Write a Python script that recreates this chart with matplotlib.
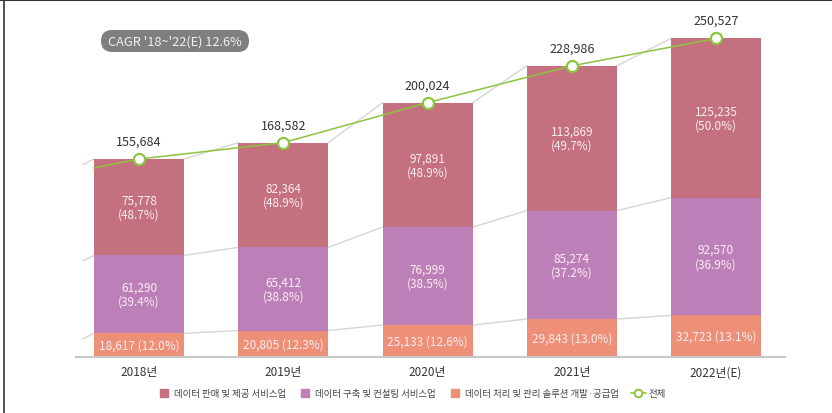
import matplotlib
matplotlib.use("Agg")
from matplotlib import pyplot as plt
from matplotlib.lines import Line2D
from matplotlib.patches import FancyBboxPatch
from matplotlib.transforms import IdentityTransform
import numpy as np

plt.rcParams['font.family'] = ['Noto Sans CJK KR', 'DejaVu Sans']
plt.rcParams['font.weight'] = 'light'

# data
years = ["2018년", "2019년", "2020년", "2021년", "2022년(E)"]
supply = [18617, 20805, 25133, 29843, 32723]
supply_pct = [12.0, 12.3, 12.6, 13.0, 13.1]
consult = [61290, 65412, 76999, 85274, 92570]
consult_pct = [39.4, 38.8, 38.5, 37.2, 36.9]
sales = [75778, 82364, 97891, 113869, 125235]
sales_pct = [48.7, 48.9, 48.9, 49.7, 50.0]
total = [155684, 168582, 200024, 228986, 250527]
series_names = ["데이터 판매 및 제공 서비스업", "데이터 구축 및 컨설팅 서비스업",
                "데이터 처리 및 관리 솔루션 개발·공급업", "전체"]
cagr_text = "CAGR '18~'22(E) 12.6%"

c_sales = "#c5707f"
c_consult = "#bd7fb8"
c_supply = "#ee8f78"
c_green = "#8cc43f"
c_grid = "#d6d6d6"
c_inner = "#fbeef2"

fig = plt.figure(figsize=(8.32, 4.14), dpi=100)
ax = fig.add_axes([76 / 832, 56 / 414, 709 / 832, 330.6 / 414])

x = np.arange(len(years))
w = 0.624
b1 = np.array(supply)
b2 = b1 + np.array(consult)

ax.bar(x, supply, w, color=c_supply, zorder=2)
ax.bar(x, consult, w, bottom=b1, color=c_consult, zorder=2)
ax.bar(x, sales, w, bottom=b2, color=c_sales, zorder=2)

# series connector lines between bars
for level in [b1, b2, np.array(total)]:
    for i in range(len(x) - 1):
        ax.plot([x[i] + w / 2, x[i + 1] - w / 2], [level[i], level[i + 1]],
                color=c_grid, lw=1, zorder=1)
    ax.plot([x[0] - w / 2 - 0.075, x[0] - w / 2], [level[0] - 4200, level[0]],
            color=c_grid, lw=1, zorder=1)

# total line
ax.plot([x[0] - w / 2, x[0]], [total[0] - 7000, total[0]], color=c_green, lw=1.1, zorder=3)
ax.plot(x, total, color=c_green, lw=1.1, marker="o", markersize=8,
        markerfacecolor="white", markeredgecolor=c_green, markeredgewidth=1.6, zorder=4)

# labels
for i in range(len(x)):
    ax.text(x[i], supply[i] / 2, f"{supply[i]:,} ({supply_pct[i]:.1f}%)",
            ha="center", va="center", color=c_inner, fontsize=8.5, zorder=5)
    ax.text(x[i], b1[i] + consult[i] / 2, f"{consult[i]:,}\n({consult_pct[i]:.1f}%)",
            ha="center", va="center", color=c_inner, fontsize=8.5, linespacing=1.1, zorder=5)
    ax.text(x[i], b2[i] + sales[i] / 2, f"{sales[i]:,}\n({sales_pct[i]:.1f}%)",
            ha="center", va="center", color=c_inner, fontsize=8.5, linespacing=1.1, zorder=5)
    ax.annotate(f"{total[i]:,}", (x[i], total[i]), xytext=(0, 18), textcoords="offset pixels",
                ha="center", va="center", color="#333333", fontsize=9, zorder=5)

ax.set_xlim(-0.4366, 4.478)
ax.set_ylim(0, 260000)
ax.set_xticks(x)
ax.set_xticklabels(years, fontsize=8.5, color="#333333")
ax.tick_params(axis="x", length=0, pad=6)
ax.set_yticks([])
for s in ["top", "right", "left"]:
    ax.spines[s].set_visible(False)
ax.spines["bottom"].set_color("#c8c8c8")
ax.spines["bottom"].set_linewidth(1.5)

# CAGR pill
fig.add_artist(FancyBboxPatch((101, 414 - 53), 148, 22, boxstyle="round,pad=0,rounding_size=11",
                              transform=IdentityTransform(), facecolor="#7f7f7f", edgecolor="none"))
fig.text(175 / 832, 1 - 42 / 414, cagr_text, ha="center", va="center", color="#f2f2f2", fontsize=9.2)

# legend
handles = [Line2D([], [], ls="none", marker="s", markersize=6, color=c_sales),
           Line2D([], [], ls="none", marker="s", markersize=6, color=c_consult),
           Line2D([], [], ls="none", marker="s", markersize=6, color=c_supply),
           Line2D([], [], color=c_green, lw=1.1, marker="o", markersize=5.5,
                  markerfacecolor="white", markeredgecolor=c_green, markeredgewidth=1.4)]
fig.legend(handles, series_names, loc="center", bbox_to_anchor=(0.494, 1 - 395 / 414), ncol=4,
           frameon=False, fontsize=6.8, labelcolor="#444444", handlelength=1.6, handletextpad=0.3,
           columnspacing=1.2)

# screenshot border
fig.add_artist(Line2D([0, 1], [0.998, 0.998], color="#333333", lw=1.5, transform=fig.transFigure))
fig.add_artist(Line2D([4 / 832, 4 / 832], [0, 1], color="#333333", lw=1.2, transform=fig.transFigure))

fig.savefig("out.png", dpi=100)
